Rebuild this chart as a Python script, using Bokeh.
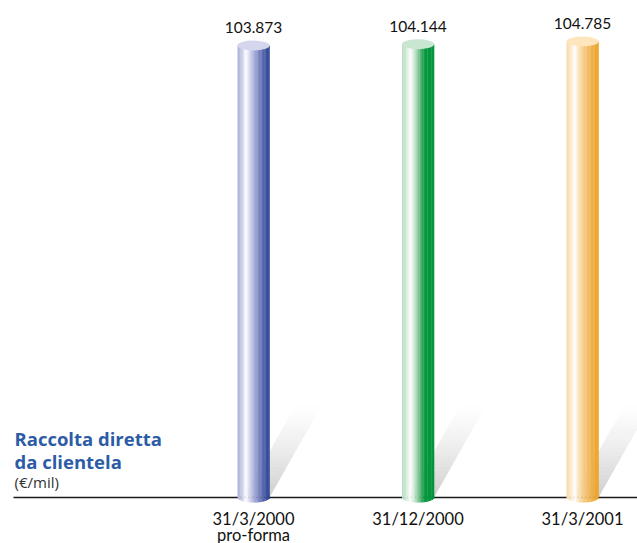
from bokeh.plotting import figure
from bokeh.models import Range1d, Label
from bokeh.core.properties import value
from bokeh.embed import file_html
from bokeh.resources import INLINE

# --- data -------------------------------------------------------------
categories = ["31/3/2000\npro-forma", "31/12/2000", "31/3/2001"]
raccolta = [103873, 104144, 104785]          # €/mil
value_labels = [f"{v:,}".replace(",", ".") for v in raccolta]

# colour stops across each cylinder (left -> right)
palettes = [
    [(0.00, "#aab0da"), (0.14, "#c9cce8"), (0.26, "#ffffff"), (0.36, "#dcdef0"),
     (0.50, "#aeb3da"), (0.64, "#858ec6"), (0.78, "#5e6bb0"), (0.90, "#3c519d"), (1.00, "#2b4592")],
    [(0.00, "#b5dcc0"), (0.14, "#d2ebd8"), (0.26, "#ffffff"), (0.38, "#cfe9d6"),
     (0.50, "#8ccb9f"), (0.62, "#3daa62"), (0.72, "#05973e"), (1.00, "#00953a")],
    [(0.00, "#f9d9a6"), (0.14, "#fce9c9"), (0.26, "#ffffff"), (0.38, "#fbe3bb"),
     (0.52, "#f6cd8c"), (0.68, "#f2bb62"), (0.84, "#eeab40"), (1.00, "#e9a227")],
]
top_colors = ["#d3d6ec", "#c9e6d1", "#fde5bd"]

# --- geometry ---------------------------------------------------------
W, H = 637, 543
X0_PX, STEP_PX = 253, 164.5       # first cylinder centre and spacing
BASE_PX = 497                     # baseline, px from top
PX_PER_UNIT = 452 / raccolta[0]

def dx(px):
    return px / STEP_PX

def dy(px):
    return px / PX_PER_UNIT

p = figure(width=W, height=H, output_backend="svg", toolbar_location=None,
           x_range=Range1d(-X0_PX / STEP_PX, (W - X0_PX) / STEP_PX),
           y_range=Range1d(-dy(H - BASE_PX), dy(BASE_PX)),
           min_border=0)
p.axis.visible = False
p.grid.visible = False
p.outline_line_color = None
p.background_fill_color = "white"
p.border_fill_color = "white"


def hex2rgb(h):
    return tuple(int(h[i:i + 2], 16) for i in (1, 3, 5))


def interp(stops, t):
    for (t0, c0), (t1, c1) in zip(stops, stops[1:]):
        if t0 <= t <= t1:
            f = (t - t0) / (t1 - t0) if t1 > t0 else 0
            a, b = hex2rgb(c0), hex2rgb(c1)
            return "#%02x%02x%02x" % tuple(round(a[k] + (b[k] - a[k]) * f) for k in range(3))
    return stops[-1][1]


CYL_W = 32        # px
ELL_H = 10        # px
N_STRIPES = 24

# shadows: slanted band fading upward
SH_H, SH_OFF, N_SH = 92, 52, 24
for i in range(len(raccolta)):
    xs, ys, alphas = [], [], []
    for j in range(N_SH):
        y0, y1 = SH_H * j / N_SH, SH_H * (j + 1) / N_SH
        l0, r0 = -10 + SH_OFF * y0 / SH_H, 16 + SH_OFF * y0 / SH_H
        l1, r1 = -10 + SH_OFF * y1 / SH_H, 16 + SH_OFF * y1 / SH_H
        xs.append([i + dx(l0), i + dx(r0), i + dx(r1), i + dx(l1)])
        ys.append([dy(y0), dy(y0), dy(y1), dy(y1)])
        alphas.append(0.55 * (1 - j / N_SH) ** 1.3)
    p.patches(xs, ys, fill_color="#a8a8a8", fill_alpha=alphas, line_color=None)

# baseline
p.segment(x0=[dx(13 - X0_PX)], y0=[0], x1=[dx(W - X0_PX)], y1=[0],
          line_color="#1a1a1a", line_width=1.5)

# cylinders: vertical colour stripes, rounded bottom, elliptical top
for i, v in enumerate(raccolta):
    left, right, top, bottom, colors = [], [], [], [], []
    for s in range(N_STRIPES):
        u0 = s / N_STRIPES
        u1 = (s + 1) / N_STRIPES
        uc = (u0 + u1) / 2
        off = (uc - 0.5) * 2
        left.append(i + dx((u0 - 0.5) * CYL_W))
        right.append(i + dx((u1 - 0.5) * CYL_W) + dx(0.3))
        top.append(v)
        bottom.append(-dy(ELL_H / 2) * (1 - off ** 2) ** 0.5)
        colors.append(interp(palettes[i], uc))
    p.quad(left=left, right=right, top=top, bottom=bottom,
           fill_color=colors, line_color=None)
    p.ellipse(x=[i], y=[v], width=dx(CYL_W), height=dy(ELL_H),
              fill_color=top_colors[i], line_color=None)

# value labels
p.text(x=list(range(len(raccolta))), y=[v + dy(18) for v in raccolta], text=value_labels,
       text_font=value("Lato"), text_font_size="15.5px", text_color="#111111",
       text_align="center", text_baseline="middle")

# category labels (two lines where needed)
first = [c.split("\n")[0] for c in categories]
second = [c.split("\n")[1] if "\n" in c else "" for c in categories]
p.text(x=list(range(len(categories))), y=[-dy(21)] * len(categories), text=first,
       text_font=value("Lato"), text_font_size="16.5px", text_color="#111111",
       text_align="center", text_baseline="middle")
p.text(x=list(range(len(categories))), y=[-dy(37)] * len(categories), text=second,
       text_font=value("Lato"), text_font_size="16.5px", text_color="#111111",
       text_align="center", text_baseline="middle")

# title block
p.add_layout(Label(x=14, y=H - 438, x_units="screen", y_units="screen",
                   text="Raccolta diretta", text_font="Open Sans", text_font_size="18.5px",
                   text_font_style="bold", text_color="#2d5ca6", text_baseline="middle"))
p.add_layout(Label(x=14, y=H - 461, x_units="screen", y_units="screen",
                   text="da clientela", text_font="Open Sans", text_font_size="18.5px",
                   text_font_style="bold", text_color="#2d5ca6", text_baseline="middle"))
p.add_layout(Label(x=14, y=H - 481, x_units="screen", y_units="screen",
                   text="(€/mil)", text_font="Open Sans", text_font_size="15px",
                   text_color="#333333", text_baseline="middle"))

open("out.html", "w").write(file_html(p, INLINE))
